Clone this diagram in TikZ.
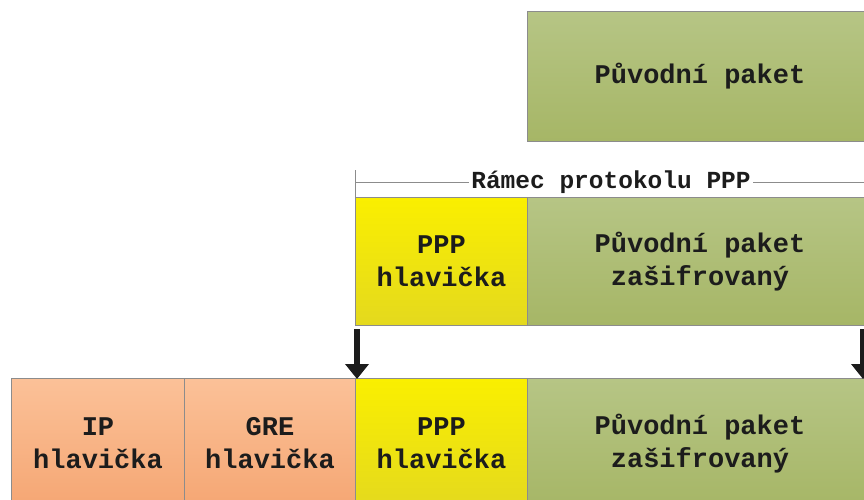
\documentclass[tikz,border=0pt]{standalone}
\usepackage{fontspec}
\setmainfont{Liberation Mono}
\usetikzlibrary{arrows.meta}
\definecolor{grnTop}{HTML}{B6C585}
\definecolor{grnBot}{HTML}{A6B666}
\definecolor{ylwTop}{HTML}{FAEF00}
\definecolor{ylwBot}{HTML}{E4D91E}
\definecolor{orgTop}{HTML}{FBC198}
\definecolor{orgBot}{HTML}{F5A673}
\definecolor{edge}{HTML}{8C8C8C}
\definecolor{ink}{HTML}{1C1C1C}
\tikzset{
  pkt/.style={draw=edge, line width=1pt, anchor=north west, inner sep=0pt,
    minimum height=130pt, align=center, text=ink,
    font=\bfseries\fontsize{27}{33}\selectfont},
  greenbox/.style={pkt, top color=grnTop, bottom color=grnBot},
  yellowbox/.style={pkt, top color=ylwTop, bottom color=ylwBot},
  orangebox/.style={pkt, top color=orgTop, bottom color=orgBot},
  framerule/.style={draw=edge, line width=1pt},
  framelabel/.style={fill=white, inner xsep=2pt, inner ysep=1pt, text=ink,
    font=\bfseries\fontsize{24.5}{28}\selectfont},
  downarrow/.style={draw=ink, line width=6pt,
    -{Triangle[width=23pt,length=15pt]}, shorten >=0pt}
}
\begin{document}
\begin{tikzpicture}[x=1pt,y=-1pt]
\useasboundingbox (0,0) rectangle (864,499);

% original packet
\node[greenbox, minimum width=345pt] (orig) at (527,11) {Původní paket};

% PPP frame
\node[yellowbox, minimum width=172pt, minimum height=128pt] (ppphdr) at (355,197) {PPP\\hlavička};
\node[greenbox, minimum width=345pt, minimum height=128pt] (encpkt) at (527,197) {Původní paket\\zašifrovaný};

% frame bracket with label
\coordinate (brL) at (355,182);
\coordinate (brR) at (870,182);
\draw[framerule] (355,170) -- (ppphdr.north west);
\draw[framerule] (brL) -- (brR);
\node[framelabel] (framelbl) at (611,182) {Rámec protokolu PPP};

% encapsulated packet
\node[orangebox, minimum width=173pt] (iphdr) at (11,378) {IP\\hlavička};
\node[orangebox, minimum width=171pt] (grehdr) at (184,378) {GRE\\hlavička};
\node[yellowbox, minimum width=172pt] (ppphdr2) at (355,378) {PPP\\hlavička};
\node[greenbox, minimum width=345pt] (encpkt2) at (527,378) {Původní paket\\zašifrovaný};

% arrows between the frame and the encapsulated packet
\coordinate (la0) at (357,329);
\coordinate (la1) at (357,379);
\coordinate (ra0) at (863,329);
\coordinate (ra1) at (863,379);
\draw[downarrow] (la0) -- (la1);
\draw[downarrow] (ra0) -- (ra1);
\end{tikzpicture}
\end{document}
